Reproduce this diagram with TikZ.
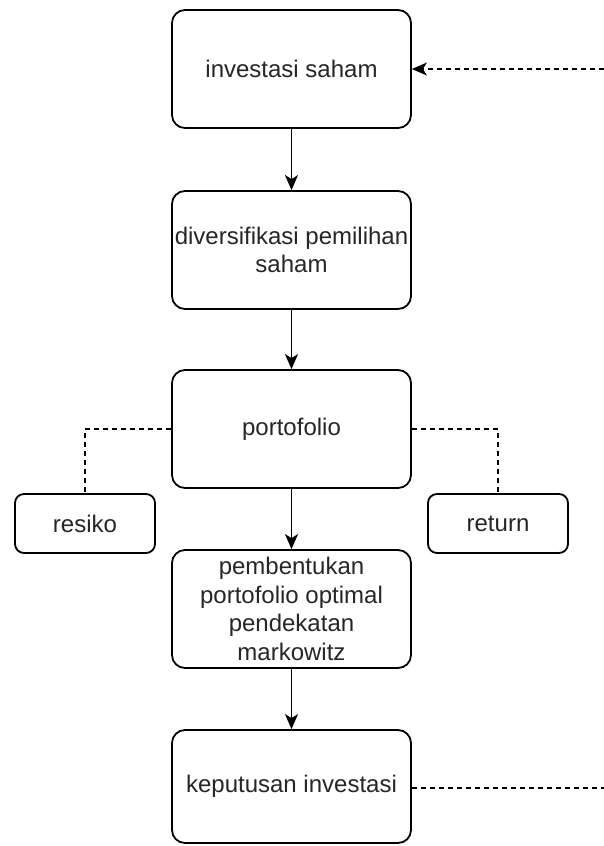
\documentclass[tikz,border=0pt]{standalone}
\usepackage{fontspec}
\setmainfont{Liberation Sans}
\usetikzlibrary{arrows.meta}
\begin{document}
\begin{tikzpicture}[x=1pt,y=-1pt,
  bigbox/.style={draw=black, line width=1.8pt, rounded corners=13pt, minimum width=239pt, minimum height=118pt, align=center, inner sep=0pt, text=black!85, font=\fontsize{24}{28.5}\selectfont},
  smallbox/.style={draw=black, line width=1.8pt, rounded corners=9pt, minimum width=140pt, minimum height=59pt, align=center, inner sep=0pt, text=black!85, font=\fontsize{24}{28}\selectfont},
  arr/.style={line width=1.8pt, -{Stealth[length=15pt,width=13pt,inset=4pt]}},
  dashline/.style={line width=1.6pt, dash pattern=on 5pt off 4pt}
]
\useasboundingbox (0,0) rectangle (603,846);
\fill[white] (0,0) rectangle (603,846);
\node[bigbox] (b1) at (291.5,69) {investasi saham};
\node[bigbox] (b2) at (291.5,250) {diversifikasi pemilihan\\saham};
\node[bigbox] (b3) at (291.5,429) {portofolio};
\node[bigbox] (b4) at (291.5,609) {pembentukan\\portofolio optimal\\pendekatan\\markowitz};
\node[bigbox, minimum height=113pt] (b5) at (291.5,786.5) {keputusan investasi};
\node[smallbox] (r1) at (85,523.5) {resiko};
\node[smallbox] (r2) at (498,523.5) {return};
\coordinate (e1) at (604,69);
\coordinate (e2) at (604,788);
\draw[arr] (b1) -- (b2);
\draw[arr] (b2) -- (b3);
\draw[arr] (b3) -- (b4);
\draw[arr] (b4) -- (b5);
\draw[dashline, -{Stealth[length=15pt,width=13pt,inset=4pt]}] (e1) -- (b1.east);
\draw[dashline] (b5.east |- e2) -- (e2);
\draw[dashline] (b3.west) -| (r1.north);
\draw[dashline] (b3.east) -| (r2.north);
\end{tikzpicture}
\end{document}
